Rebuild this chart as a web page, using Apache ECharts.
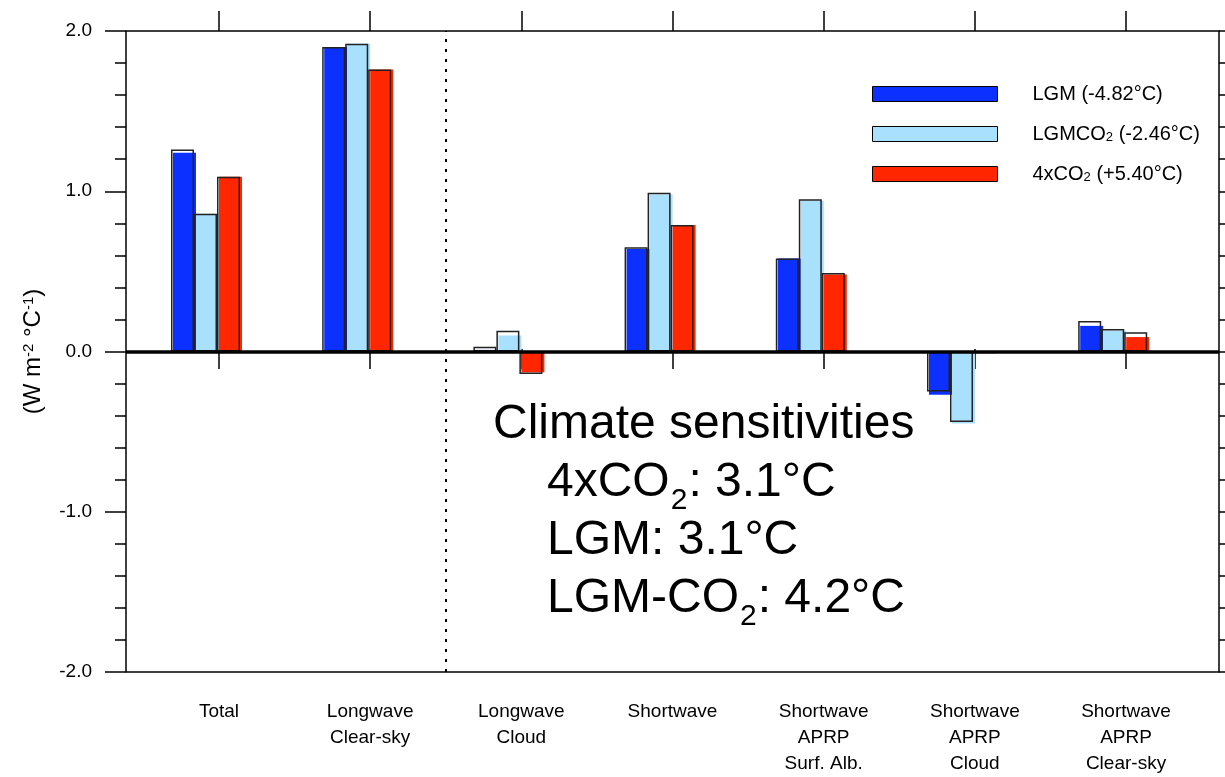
<!DOCTYPE html>
<html>
<head>
<meta charset="utf-8">
<script src="https://cdn.jsdelivr.net/npm/echarts@6/dist/echarts.min.js"></script>
<style>
html,body{margin:0;padding:0;background:#fff;}
#chart{width:1225px;height:777px;}
</style>
</head>
<body>
<div id="chart"></div>
<script>
// ---- data ----
const categories = ['Total', 'Longwave\nClear-sky', 'Longwave\nCloud', 'Shortwave',
  'Shortwave\nAPRP\nSurf. Alb.', 'Shortwave\nAPRP\nCloud', 'Shortwave\nAPRP\nClear-sky'];
const seriesNames = ['LGM (-4.82°C)', 'LGMCO2 (-2.46°C)', '4xCO2 (+5.40°C)'];
// filled bars
const lgmFill    = [1.24, 1.90, 0.01, 0.64, 0.58, -0.27, 0.16];
const lgmco2Fill = [0.86, 1.92, 0.10, 0.98, 0.94, -0.45, 0.13];
const co2x4Fill  = [1.09, 1.76, -0.13, 0.79, 0.48, -0.01, 0.09];
// outlined bars
const lgmOutline    = [1.26, 1.90, 0.03, 0.65, 0.58, -0.25, 0.19];
const lgmco2Outline = [0.86, 1.92, 0.13, 0.99, 0.95, -0.44, 0.14];
const co2x4Outline  = [1.09, 1.76, -0.14, 0.79, 0.49, -0.01, 0.12];
const yTicks = [-2, -1, 0, 1, 2];
// separator between longwave clear-sky and longwave cloud (category-index space)
const separatorAt = 1.5;
const sensitivityTitle = 'Climate sensitivities';
const sensitivityLines = ['4xCO{s|2}: 3.1°C', 'LGM: 3.1°C', 'LGM-CO{s|2}: 4.2°C'];

const colors = ['#0b30ff', '#a8e0fd', '#ff2600'];
const FONT = 'Liberation Sans, Arial, sans-serif';

const chart = echarts.init(document.getElementById('chart'), null, {renderer: 'canvas'});

const legendLabel = {
  'LGM (-4.82°C)': '{p|}{a|LGM (-4.82°C)}',
  'LGMCO2 (-2.46°C)': '{p|}{a|LGMCO}{s|2}{a| (-2.46°C)}',
  '4xCO2 (+5.40°C)': '{p|}{a|4xCO}{s|2}{a| (+5.40°C)}'
};

const fills = [lgmFill, lgmco2Fill, co2x4Fill];
const outlines = [lgmOutline, lgmco2Outline, co2x4Outline];

const series = [];
fills.forEach((d, i) => {
  series.push({
    name: seriesNames[i], type: 'bar', xAxisIndex: 3, yAxisIndex: 3,
    data: d, barWidth: 23, barGap: '0%',
    itemStyle: {color: colors[i], borderColor: '#000', borderWidth: 0},
    z: 3
  });
});
outlines.forEach((d, i) => {
  series.push({
    name: seriesNames[i] + ' outline', type: 'bar', xAxisIndex: 4, yAxisIndex: 4,
    data: d, barWidth: 23, barGap: '0%',
    itemStyle: {color: 'rgba(0,0,0,0)', borderColor: '#222', borderWidth: 1.5},
    z: 4
  });
});
// zero line + dashed separator over full frame
series.push({
  type: 'line', xAxisIndex: 0, yAxisIndex: 0, data: [], z: 6,
  markLine: {silent: true, symbol: 'none', label: {show: false},
    data: [
      {yAxis: 0, lineStyle: {color: '#000', width: 3.5, type: 'solid'}},
      {xAxis: separatorAt, lineStyle: {color: '#000', width: 2, type: [3, 7]}}
    ]}
});

const axisFmt = v => v.toFixed(1);
// frame grid spans slightly beyond outer category bands
const frameMin = -0.5 - (143.4 - 126) / 151.17;
const frameMax = 6.5 + (1219 - 1201.6) / 151.17;

const option = {
  backgroundColor: '#fff',
  animation: false,
  grid: [
    {left: 126, right: 6, top: 31, bottom: 105, show: true, borderColor: '#000', borderWidth: 1.5, backgroundColor: 'transparent'},
    {left: 143.4, right: 23.4, top: 31, bottom: 105},
    {left: 131.9, right: 34.7, top: 31, bottom: 105},
    {left: 129.9, right: 36.7, top: 31, bottom: 105}
  ],
  legend: {
    orient: 'vertical', left: 872, top: 84, padding: 0, itemWidth: 125, itemHeight: 15, itemGap: 20,
    icon: 'rect',
    data: seriesNames,
    formatter: n => legendLabel[n],
    itemStyle: {borderColor: '#000', borderWidth: 1},
    textStyle: {
      color: '#000', fontFamily: FONT, fontSize: 20, lineHeight: 20,
      rich: {
        p: {width: 30},
        a: {fontSize: 20, fontFamily: FONT, color: '#000'},
        s: {fontSize: 13, fontFamily: FONT, color: '#000', verticalAlign: 'bottom', padding: [8, 0, 0, 0]}
      }
    }
  },
  title: [
    {text: sensitivityTitle, left: 488, top: 391,
      textStyle: {fontFamily: FONT, fontSize: 48, fontWeight: 'normal', color: '#000', lineHeight: 58}},
    {text: sensitivityLines.map(l => '{m|' + l.replace(/\{s\|2\}/g, '}{s|2}{m|') + '}').join('\n'),
      left: 542, top: 449,
      textStyle: {fontFamily: FONT, fontSize: 48, fontWeight: 'normal', color: '#000', lineHeight: 58,
        rich: {
          m: {fontFamily: FONT, fontSize: 48, color: '#000', lineHeight: 58},
          s: {fontFamily: FONT, fontSize: 30, color: '#000', lineHeight: 58, verticalAlign: 'bottom', padding: [0, 1, -4, 1]}
        }}}
  ],
  xAxis: [
    {gridIndex: 0, type: 'value', min: frameMin, max: frameMax, show: false},
    {gridIndex: 1, type: 'category', data: categories, position: 'bottom',
      axisLine: {show: false},
      axisTick: {show: true, alignWithLabel: true, inside: false, length: 20, lineStyle: {color: '#000', width: 1.5}},
      axisLabel: {show: true, interval: 0, margin: 32, fontFamily: FONT, fontSize: 19, lineHeight: 26, color: '#000', align: 'center'},
      splitLine: {show: false}},
    {gridIndex: 1, type: 'category', data: categories, position: 'top',
      axisLine: {show: false},
      axisTick: {show: true, alignWithLabel: true, inside: false, length: 20, lineStyle: {color: '#000', width: 1.5}},
      axisLabel: {show: false}, splitLine: {show: false}},
    {gridIndex: 2, type: 'category', data: categories, show: false},
    {gridIndex: 3, type: 'category', data: categories, show: false}
  ],
  yAxis: [
    {gridIndex: 0, type: 'value', min: yTicks[0], max: yTicks[yTicks.length - 1], interval: 1, position: 'left',
      name: '(W m{sup|-2} °C{sup|-1})', nameLocation: 'middle', nameGap: 80, nameRotate: 90,
      nameTextStyle: {fontFamily: FONT, fontSize: 24, color: '#000',
        rich: {sup: {fontFamily: FONT, fontSize: 15, color: '#000', verticalAlign: 'top', padding: [0, 0, 10, 0]}}},
      axisLine: {show: false, onZero: false},
      axisTick: {show: true, inside: false, length: 21, lineStyle: {color: '#000', width: 1.5}},
      minorTick: {show: true, splitNumber: 5, length: 11, lineStyle: {color: '#000', width: 1.5}},
      axisLabel: {formatter: axisFmt, margin: 34, fontFamily: FONT, fontSize: 19, color: '#000'},
      splitLine: {show: false}},
    {gridIndex: 0, type: 'value', min: yTicks[0], max: yTicks[yTicks.length - 1], interval: 1, position: 'right',
      axisLine: {show: false, onZero: false},
      axisTick: {show: true, inside: false, length: 21, lineStyle: {color: '#000', width: 1.5}},
      minorTick: {show: true, splitNumber: 5, length: 11, lineStyle: {color: '#000', width: 1.5}},
      axisLabel: {show: false}, splitLine: {show: false}},
    {gridIndex: 1, type: 'value', min: -2, max: 2, show: false},
    {gridIndex: 2, type: 'value', min: -2, max: 2, show: false},
    {gridIndex: 3, type: 'value', min: -2, max: 2, show: false}
  ],
  series: series
};
chart.setOption(option);
</script>
</body>
</html>
